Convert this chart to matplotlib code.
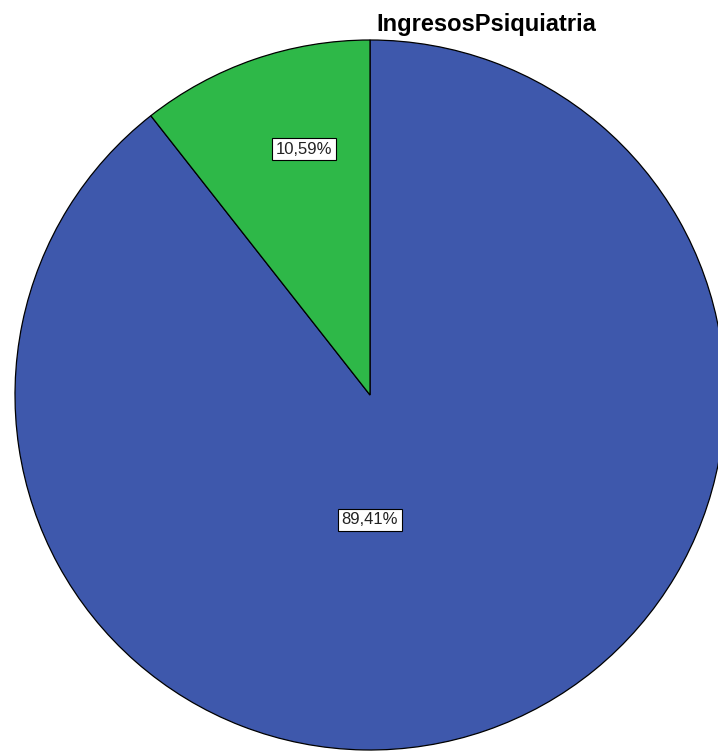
import matplotlib
matplotlib.use("Agg")
import matplotlib.pyplot as plt

plt.rcParams['font.family'] = ['Liberation Sans', 'DejaVu Sans']

# ─────────── 数据 ───────────
categories = ["Sí", "No"]
percentages = [89.41, 10.59]
colors = ["#3E58AC", "#2EB848"]
title = "IngresosPsiquiatria"

W, H = 718, 751
CX, CY = 370, H - 395   # 饼图中心（像素坐标）
R = 355

fig = plt.figure(figsize=(W / 100, H / 100), dpi=100)
ax = fig.add_axes([0, 0, 1, 1])
ax.set_xlim(0, W)
ax.set_ylim(0, H)
ax.set_aspect("equal")
ax.axis("off")

wedges, texts, autotexts = ax.pie(
    percentages,
    colors=colors,
    startangle=90,
    counterclock=False,
    center=(CX, CY),
    radius=R,
    autopct=lambda p: f"{p:.2f}%".replace(".", ","),
    pctdistance=0.7,
    wedgeprops=dict(edgecolor="black", linewidth=0.9),
    textprops=dict(fontsize=12, color="#222222"),
    frame=True,
)
ax.axis("off")

# 标签位置（相对中心的偏移）
label_offsets = [(0, -125), (-66, 246)]
for t, (dx, dy) in zip(autotexts, label_offsets):
    t.set_position((CX + dx, CY + dy))
    t.set_ha("center")
    t.set_va("center")
    t.set_bbox(dict(boxstyle="square,pad=0.2", facecolor="white",
                    edgecolor="black", linewidth=0.8))

fig.text(486 / W, 1 - 24 / H, title, ha="center", va="center",
         fontsize=17, fontweight="bold", color="black")

fig.savefig("out.png", dpi=100)
